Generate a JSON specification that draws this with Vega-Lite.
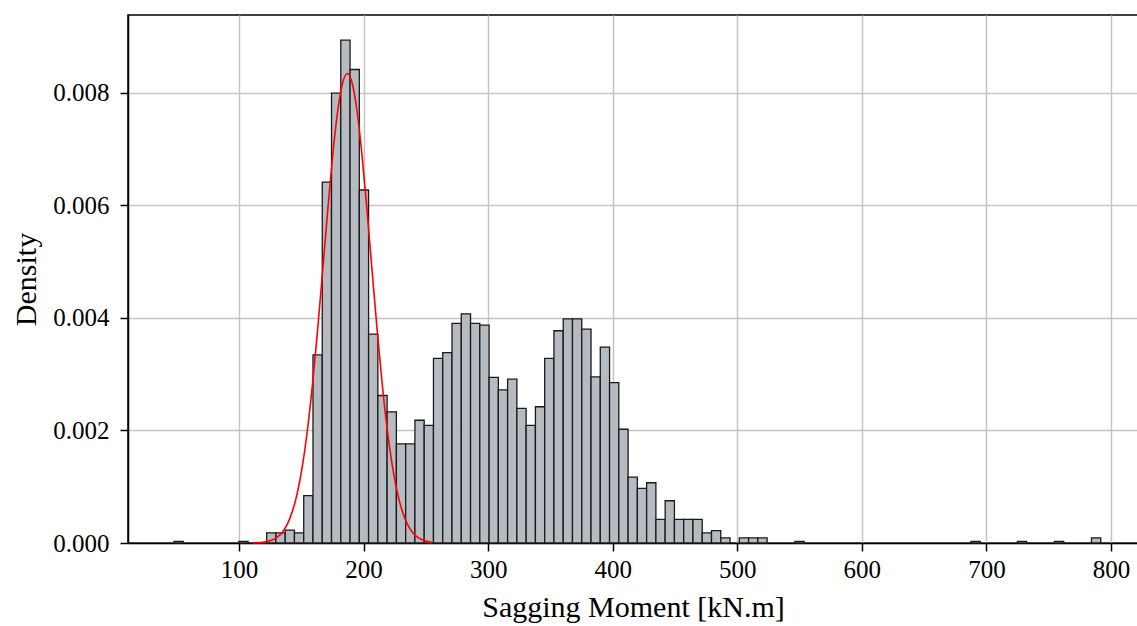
{
  "$schema": "https://vega.github.io/schema/vega-lite/v6.json",
  "width": 1010,
  "height": 528,
  "autosize": {"type": "none"},
  "padding": {"left": 128, "top": 15, "right": 0, "bottom": 83},
  "background": "white",
  "config": {
    "view": {"stroke": "black", "strokeWidth": 1.5},
    "font": "Liberation Serif",
    "axis": {
      "labelFont": "Liberation Serif",
      "labelFontSize": 25,
      "labelColor": "black",
      "titleFont": "Liberation Serif",
      "titleFontSize": 30,
      "titleFontWeight": "normal",
      "titleColor": "black",
      "tickColor": "black",
      "tickSize": 8,
      "tickWidth": 1.5,
      "domainColor": "black",
      "domainWidth": 1.5,
      "gridColor": "#c4c4c4",
      "gridWidth": 1.5,
      "labelPadding": 6,
      "zindex": 1
    }
  },
  "datasets": {
    "bins": [
      {"moment": 47.80, "moment_end": 55.24, "density": 0.00003},
      {"moment": 99.88, "moment_end": 107.32, "density": 0.00003},
      {"moment": 122.20, "moment_end": 129.64, "density": 0.00018},
      {"moment": 129.64, "moment_end": 137.08, "density": 0.00018},
      {"moment": 137.08, "moment_end": 144.52, "density": 0.00023},
      {"moment": 144.52, "moment_end": 151.96, "density": 0.00018},
      {"moment": 151.96, "moment_end": 159.40, "density": 0.00084},
      {"moment": 159.40, "moment_end": 166.84, "density": 0.00334},
      {"moment": 166.84, "moment_end": 174.28, "density": 0.00641},
      {"moment": 174.28, "moment_end": 181.72, "density": 0.00799},
      {"moment": 181.72, "moment_end": 189.16, "density": 0.00893},
      {"moment": 189.16, "moment_end": 196.60, "density": 0.00841},
      {"moment": 196.60, "moment_end": 204.04, "density": 0.00627},
      {"moment": 204.04, "moment_end": 211.48, "density": 0.00371},
      {"moment": 211.48, "moment_end": 218.92, "density": 0.00262},
      {"moment": 218.92, "moment_end": 226.36, "density": 0.00233},
      {"moment": 226.36, "moment_end": 233.80, "density": 0.00176},
      {"moment": 233.80, "moment_end": 241.24, "density": 0.00176},
      {"moment": 241.24, "moment_end": 248.68, "density": 0.00218},
      {"moment": 248.68, "moment_end": 256.12, "density": 0.00209},
      {"moment": 256.12, "moment_end": 263.56, "density": 0.00328},
      {"moment": 263.56, "moment_end": 271.00, "density": 0.00338},
      {"moment": 271.00, "moment_end": 278.44, "density": 0.00390},
      {"moment": 278.44, "moment_end": 285.88, "density": 0.00407},
      {"moment": 285.88, "moment_end": 293.32, "density": 0.00390},
      {"moment": 293.32, "moment_end": 300.76, "density": 0.00387},
      {"moment": 300.76, "moment_end": 308.20, "density": 0.00294},
      {"moment": 308.20, "moment_end": 315.64, "density": 0.00272},
      {"moment": 315.64, "moment_end": 323.08, "density": 0.00291},
      {"moment": 323.08, "moment_end": 330.52, "density": 0.00239},
      {"moment": 330.52, "moment_end": 337.96, "density": 0.00209},
      {"moment": 337.96, "moment_end": 345.40, "density": 0.00242},
      {"moment": 345.40, "moment_end": 352.84, "density": 0.00328},
      {"moment": 352.84, "moment_end": 360.28, "density": 0.00377},
      {"moment": 360.28, "moment_end": 367.72, "density": 0.00398},
      {"moment": 367.72, "moment_end": 375.16, "density": 0.00398},
      {"moment": 375.16, "moment_end": 382.60, "density": 0.00380},
      {"moment": 382.60, "moment_end": 390.04, "density": 0.00295},
      {"moment": 390.04, "moment_end": 397.48, "density": 0.00348},
      {"moment": 397.48, "moment_end": 404.92, "density": 0.00285},
      {"moment": 404.92, "moment_end": 412.36, "density": 0.00202},
      {"moment": 412.36, "moment_end": 419.80, "density": 0.00117},
      {"moment": 419.80, "moment_end": 427.24, "density": 0.00097},
      {"moment": 427.24, "moment_end": 434.68, "density": 0.00107},
      {"moment": 434.68, "moment_end": 442.12, "density": 0.00042},
      {"moment": 442.12, "moment_end": 449.56, "density": 0.00075},
      {"moment": 449.56, "moment_end": 457.00, "density": 0.00042},
      {"moment": 457.00, "moment_end": 464.44, "density": 0.00042},
      {"moment": 464.44, "moment_end": 471.88, "density": 0.00042},
      {"moment": 471.88, "moment_end": 479.32, "density": 0.00018},
      {"moment": 479.32, "moment_end": 486.76, "density": 0.00022},
      {"moment": 486.76, "moment_end": 494.20, "density": 0.00009},
      {"moment": 501.64, "moment_end": 509.08, "density": 0.00009},
      {"moment": 509.08, "moment_end": 516.52, "density": 0.00009},
      {"moment": 516.52, "moment_end": 523.96, "density": 0.00009},
      {"moment": 546.28, "moment_end": 553.72, "density": 0.00003},
      {"moment": 687.64, "moment_end": 695.08, "density": 0.00003},
      {"moment": 724.84, "moment_end": 732.28, "density": 0.00003},
      {"moment": 754.60, "moment_end": 762.04, "density": 0.00003},
      {"moment": 784.36, "moment_end": 791.80, "density": 0.00009}
    ],
    "curve": [
      {"moment": 111, "density": 0.0000028},
      {"moment": 115, "density": 0.0000064},
      {"moment": 119, "density": 0.0000138},
      {"moment": 123, "density": 0.0000286},
      {"moment": 127, "density": 0.0000569},
      {"moment": 131, "density": 0.0001083},
      {"moment": 135, "density": 0.000197},
      {"moment": 139, "density": 0.000343},
      {"moment": 143, "density": 0.000571},
      {"moment": 147, "density": 0.000909},
      {"moment": 151, "density": 0.001385},
      {"moment": 155, "density": 0.002020},
      {"moment": 159, "density": 0.002816},
      {"moment": 163, "density": 0.003756},
      {"moment": 167, "density": 0.004793},
      {"moment": 171, "density": 0.005850},
      {"moment": 175, "density": 0.006832},
      {"moment": 179, "density": 0.007633},
      {"moment": 183, "density": 0.008157},
      {"moment": 187, "density": 0.008340},
      {"moment": 191, "density": 0.008157},
      {"moment": 195, "density": 0.007633},
      {"moment": 199, "density": 0.006832},
      {"moment": 203, "density": 0.005850},
      {"moment": 207, "density": 0.004793},
      {"moment": 211, "density": 0.003756},
      {"moment": 215, "density": 0.002816},
      {"moment": 219, "density": 0.002020},
      {"moment": 223, "density": 0.001385},
      {"moment": 227, "density": 0.000909},
      {"moment": 231, "density": 0.000571},
      {"moment": 235, "density": 0.000343},
      {"moment": 239, "density": 0.000197},
      {"moment": 243, "density": 0.0001083},
      {"moment": 247, "density": 0.0000569},
      {"moment": 251, "density": 0.0000286},
      {"moment": 255, "density": 0.0000138}
    ]
  },
  "layer": [
    {
      "data": {"name": "bins"},
      "mark": {"type": "bar", "fill": "#b5bbc1", "stroke": "#1a1a1a", "strokeWidth": 1.3},
      "encoding": {
        "x": {
          "field": "moment",
          "type": "quantitative",
          "scale": {"domain": [10.9, 821.7], "nice": false, "zero": false},
          "axis": {"title": "Sagging Moment [kN.m]", "values": [100, 200, 300, 400, 500, 600, 700, 800], "format": "d", "titlePadding": 10}
        },
        "x2": {"field": "moment_end"},
        "y": {
          "field": "density",
          "type": "quantitative",
          "scale": {"domain": [0, 0.009378], "nice": false},
          "axis": {"title": "Density", "values": [0, 0.002, 0.004, 0.006, 0.008], "format": ".3f", "labelPadding": 11, "titlePadding": 11}
        },
        "y2": {"datum": 0}
      }
    },
    {
      "data": {"name": "curve"},
      "mark": {"type": "line", "color": "#ff0000", "strokeWidth": 1.6, "interpolate": "monotone"},
      "encoding": {
        "x": {"field": "moment", "type": "quantitative", "title": "Sagging Moment [kN.m]"},
        "y": {"field": "density", "type": "quantitative", "title": "Density"}
      }
    }
  ]
}
